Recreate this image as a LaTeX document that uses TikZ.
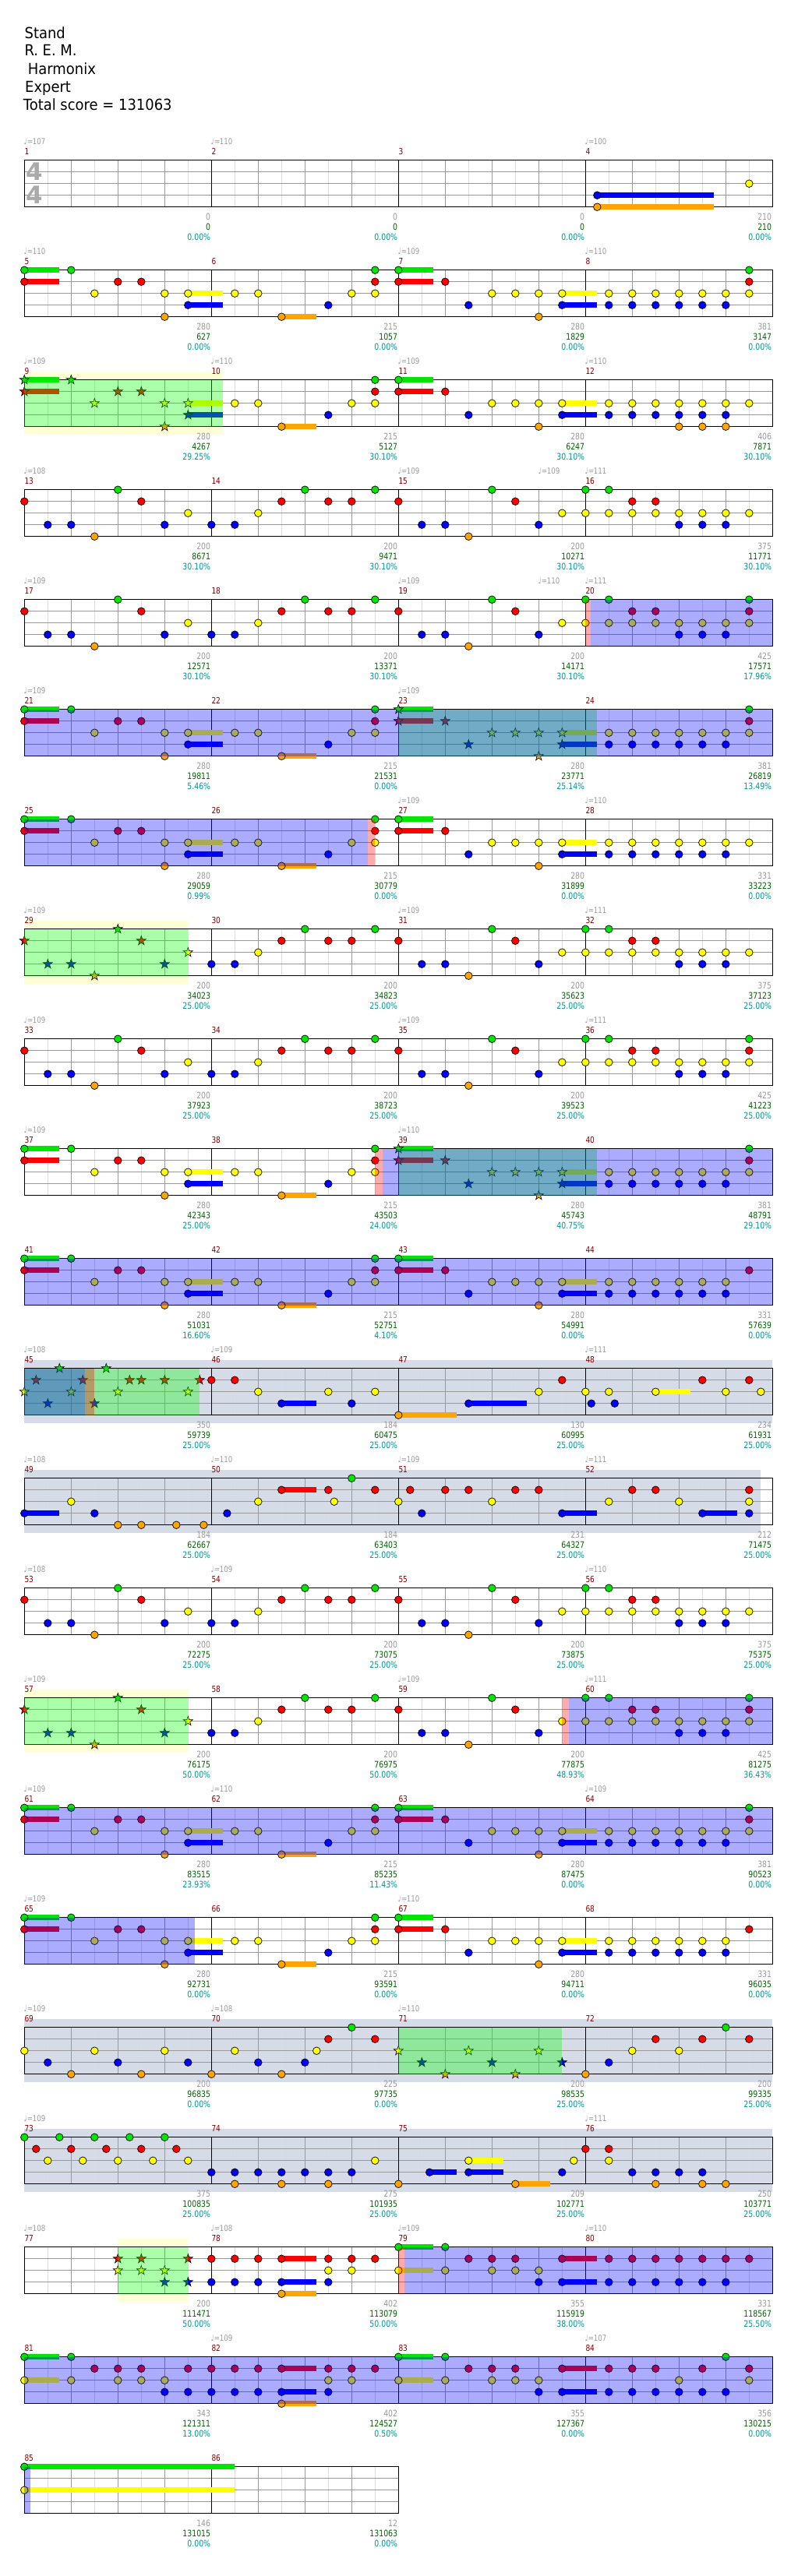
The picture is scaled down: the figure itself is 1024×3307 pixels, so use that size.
\documentclass[tikz,border=0pt]{standalone}
\usepackage{fontspec}
\setmainfont{DejaVu Sans}
\newfontfamily\smf[FakeStretch=0.82]{DejaVu Sans}
\newfontfamily\hdf[FakeStretch=0.92]{DejaVu Sans}
\definecolor{ln0}{RGB}{0,230,0}
\definecolor{ln1}{RGB}{255,0,0}
\definecolor{ln2}{RGB}{255,255,0}
\definecolor{ln3}{RGB}{0,0,255}
\definecolor{ln4}{RGB}{255,165,0}
\definecolor{lgr}{RGB}{221,221,221}
\definecolor{mgr}{RGB}{153,153,153}
\definecolor{slate}{RGB}{213,220,232}
\definecolor{pyel}{RGB}{255,255,214}
\definecolor{mred}{RGB}{140,0,0}
\definecolor{tgray}{RGB}{155,155,155}
\definecolor{sgreen}{RGB}{0,100,0}
\definecolor{pcyan}{RGB}{0,150,150}
\definecolor{tsig}{RGB}{170,170,170}
\tikzset{
  lab/.style={anchor=east,inner sep=0pt,font=\fontsize{11.4}{12}\smf},
  mnum/.style={anchor=west,inner sep=0pt,text=mred,font=\fontsize{11}{12}\smf},
  tmp/.style={anchor=west,inner sep=0pt,text=tgray,font=\fontsize{10.5}{12}\smf},
  hd/.style={anchor=base west,inner sep=0pt,font=\fontsize{19.5}{23}\hdf},
  tsg/.style={inner sep=0pt,text=tsig,font=\fontsize{31}{31}\bfseries}
}
\newcommand\NC[2]{\foreach \q in {#2}{\filldraw[fill=ln#1,draw=black,line width=.7pt] ({31.3+30*\q},{15*#1}) circle (4.8pt);}}
\newcommand\NS[2]{\foreach \q in {#2}{\pgfmathsetmacro\xx{31.3+30*\q}\pgfmathsetmacro\yy{15*#1}%
  \filldraw[fill=ln#1,draw=black,line width=.6pt] ({\xx},{\yy-6.3}) \foreach \i in {0,...,4}{ -- ({\xx+2.5*cos(126+72*\i)},{\yy-2.5*sin(126+72*\i)}) -- ({\xx+6.3*cos(162+72*\i)},{\yy-6.3*sin(162+72*\i)})} -- cycle;}}
\newcommand\NH[3]{\fill[ln#1] ({31.3+30*#2},{15*#1-3.3}) rectangle ({31.3+30*#3},{15*#1+3.3});}
\newcommand\SuStd{\NH0{0}{1.5}\NH1{0}{1.5}\NH2{7}{8.5}\NH3{7}{8.5}\NH4{11}{12.5}\NH0{16}{17.5}\NH1{16}{17.5}\NH2{23}{24.5}\NH3{23}{24.5}}
\newcommand\Grid[2]{%
  \foreach \i in {1,3,...,#1}{\draw[lgr,line width=1pt] ({31.3+30*\i},0) -- ++(0,60);}
  \foreach \i in {2,4,...,#1}{\draw[mgr,line width=1pt] ({31.3+30*\i},0) -- ++(0,60);}
  \foreach \l in {15,30,45}{\draw[mgr,line width=1pt] (31.3,\l) -- ({31.3+30*#1},\l);}
  \foreach \i in {#2}{\draw[black,line width=1pt] ({31.3+240*\i},0) -- ++(0,60);}
  \draw[black,line width=1.3pt] (31.3,0) rectangle ({31.3+30*#1},60);}
\newcommand\OB[2]{\fill[blue,opacity=.33] (#1,0) rectangle (#2,60);}
\newcommand\OG[2]{\fill[green,opacity=.33] (#1,0) rectangle (#2,60);}
\newcommand\OR[2]{\fill[red,opacity=.33] (#1,0) rectangle (#2,60);}
\newcommand\BS[2]{\fill[slate] (#1,-10.5) rectangle (#2,70.5);}
\newcommand\BY[2]{\fill[pyel] (#1,-10.5) rectangle (#2,70.5);\fill[white] (#1,0) rectangle (#2,60);}
\newcommand\Lb[4]{%
  \node[lab,text=tgray] (a\rr-#1) at ({31.3+240*#1-1},72.5) {#2};
  \node[lab,text=sgreen] (b\rr-#1) at ({31.3+240*#1-1},85.5) {#3};
  \node[lab,text=pcyan] (c\rr-#1) at ({31.3+240*#1-1},98.5) {#4};}
\newcommand\Mn[2]{\node[mnum] (n#2) at ({31.3+240*#1},-11.5) {#2};}
\newcommand\Tp[2]{\node[tmp] (t\rr-#1) at ({30.5+30*#1},-24.5) {♩=#2};}
\newcommand\Mfour[1]{\Mn{0}{#1}\pgfmathtruncatemacro\mb{#1+1}\Mn{1}{\mb}\pgfmathtruncatemacro\mc{#1+2}\Mn{2}{\mc}\pgfmathtruncatemacro\md{#1+3}\Mn{3}{\md}}
\begin{document}
\begin{tikzpicture}[x=1pt,y=-1pt]
\useasboundingbox (0,0) rectangle (1024,3307);
\fill[white] (0,0) rectangle (1024,3307);
\node[hd] (h1) at (31.5,49.3) {Stand};
\node[hd] (h2) at (31.3,71.7) {R. E. M.};
\node[hd] (h3) at (35.7,95) {Harmonix};
\node[hd] (h4) at (32,118) {Expert};
\node[hd] (h5) at (29.7,141) {Total score = 131063};
% ROW 1
\def\rr{1}
\begin{scope}[shift={(0,205.7)}]
\Grid{32}{1,2,3}
\node[tsg] (ts1) at (44.5,14.8) {4};
\node[tsg] (ts2) at (44.5,44.3) {4};
\NH3{24.5}{29.5}\NH4{24.5}{29.5}
\NC3{24.5}\NC4{24.5}\NC2{31}
\Mfour{1}
\Tp{0}{107}\Tp{8}{110}\Tp{24}{100}
\Lb{1}{0}{0}{0.00\%}\Lb{2}{0}{0}{0.00\%}\Lb{3}{0}{0}{0.00\%}\Lb{4}{210}{210}{0.00\%}
\end{scope}
% ROW 2
\def\rr{2}
\begin{scope}[shift={(0,346.7)}]
\Grid{32}{1,2,3}
\SuStd
\NC0{0,2,15,16,31}
\NC1{0,4,5,15,16,18,31}
\NC2{3,6,7,9,10,14,15,20,21,22,23,25,26,27,28,29,30,31}
\NC3{7,13,19,23,25,26,27,28,29,30}
\NC4{6,11,22}
\Mfour{5}
\Tp{0}{110}\Tp{16}{109}\Tp{24}{110}
\Lb{1}{280}{627}{0.00\%}\Lb{2}{215}{1057}{0.00\%}\Lb{3}{280}{1829}{0.00\%}\Lb{4}{381}{3147}{0.00\%}
\end{scope}
% ROW 3
\def\rr{3}
\begin{scope}[shift={(0,487.7)}]
\BY{31.3}{286}
\Grid{32}{1,2,3}
\SuStd
\NS0{0,2}\NS1{0,4,5}\NS2{3,6,7}\NS3{7}\NS4{6}
\NC0{15,16}
\NC1{15,16,18}
\NC2{9,10,14,15,20,21,22,23,25,26,27,28,29,30,31}
\NC3{13,19,23,25,26,27,28,29,30}
\NC4{11,22,28,29,30}
\OG{31.3}{286}
\Mfour{9}
\Tp{0}{109}\Tp{8}{110}\Tp{16}{109}\Tp{24}{110}
\Lb{1}{280}{4267}{29.25\%}\Lb{2}{215}{5127}{30.10\%}\Lb{3}{280}{6247}{30.10\%}\Lb{4}{406}{7871}{30.10\%}
\end{scope}
% ROW 4
\def\rr{4}
\begin{scope}[shift={(0,628.7)}]
\Grid{32}{1,2,3}
\NC0{4,12,15,20,24,25}
\NC1{0,5,11,13,14,16,21,26,27}
\NC2{7,10,23,24,25,26,27,28,29,30,31}
\NC3{1,2,6,8,9,17,18,22,28,29,30}
\NC4{3,19}
\Mfour{13}
\Tp{0}{108}\Tp{16}{109}\Tp{22}{109}\Tp{24}{111}
\Lb{1}{200}{8671}{30.10\%}\Lb{2}{200}{9471}{30.10\%}\Lb{3}{200}{10271}{30.10\%}\Lb{4}{375}{11771}{30.10\%}
\end{scope}
% ROW 5
\def\rr{5}
\begin{scope}[shift={(0,769.7)}]
\Grid{32}{1,2,3}
\NC0{4,12,15,20,24,25,31}
\NC1{0,5,11,13,14,16,21,26,27,31}
\NC2{7,10,23,24,25,26,27,28,29,30,31}
\NC3{1,2,6,8,9,17,18,22,28,29,30}
\NC4{3,19}
\OR{751.3}{758}\OB{758}{991.3}
\Mfour{17}
\Tp{0}{109}\Tp{16}{109}\Tp{22}{110}\Tp{24}{111}
\Lb{1}{200}{12571}{30.10\%}\Lb{2}{200}{13371}{30.10\%}\Lb{3}{200}{14171}{30.10\%}\Lb{4}{425}{17571}{17.96\%}
\end{scope}
% ROW 6
\def\rr{6}
\begin{scope}[shift={(0,910.7)}]
\Grid{32}{1,2,3}
\SuStd
\NC0{0,2,15,31}
\NC1{0,4,5,15,31}
\NC2{3,6,7,9,10,14,15,25,26,27,28,29,30,31}
\NC3{7,13,25,26,27,28,29,30}
\NC4{6,11}
\NS0{16}\NS1{16,18}\NS2{20,21,22,23}\NS3{19,23}\NS4{22}
\OG{511.3}{766.3}\OB{31.3}{991.3}
\Mfour{21}
\Tp{0}{109}\Tp{16}{109}
\Lb{1}{280}{19811}{5.46\%}\Lb{2}{215}{21531}{0.00\%}\Lb{3}{280}{23771}{25.14\%}\Lb{4}{381}{26819}{13.49\%}
\end{scope}
% ROW 7
\def\rr{7}
\begin{scope}[shift={(0,1051.7)}]
\Grid{32}{1,2,3}
\SuStd
\NC0{0,2,15,16}
\NC1{0,4,5,15,16,18}
\NC2{3,6,7,9,10,14,15,20,21,22,23,25,26,27,28,29,30,31}
\NC3{7,13,19,23,25,26,27,28,29,30}
\NC4{6,11,22}
\OB{31.3}{472.3}\OR{472.3}{481.3}
\Mfour{25}
\Tp{16}{109}\Tp{24}{110}
\Lb{1}{280}{29059}{0.99\%}\Lb{2}{215}{30779}{0.00\%}\Lb{3}{280}{31899}{0.00\%}\Lb{4}{331}{33223}{0.00\%}
\end{scope}
% ROW 8
\def\rr{8}
\begin{scope}[shift={(0,1192.7)}]
\BY{31.3}{241.3}
\Grid{32}{1,2,3}
\NS0{4}\NS1{0,5}\NS2{7}\NS3{1,2,6}\NS4{3}
\NC0{12,15,20,24,25}
\NC1{11,13,14,16,21,26,27}
\NC2{10,23,24,25,26,27,28,29,30,31}
\NC3{8,9,17,18,22,28,29,30}
\NC4{19}
\OG{31.3}{241.3}
\Mfour{29}
\Tp{0}{109}\Tp{16}{109}\Tp{24}{111}
\Lb{1}{200}{34023}{25.00\%}\Lb{2}{200}{34823}{25.00\%}\Lb{3}{200}{35623}{25.00\%}\Lb{4}{375}{37123}{25.00\%}
\end{scope}
% ROW 9
\def\rr{9}
\begin{scope}[shift={(0,1333.7)}]
\Grid{32}{1,2,3}
\NC0{4,12,15,20,24,25,31}
\NC1{0,5,11,13,14,16,21,26,27,31}
\NC2{7,10,23,24,25,26,27,28,29,30,31}
\NC3{1,2,6,8,9,17,18,22,28,29,30}
\NC4{3,19}
\Mfour{33}
\Tp{0}{109}\Tp{16}{109}\Tp{24}{111}
\Lb{1}{200}{37923}{25.00\%}\Lb{2}{200}{38723}{25.00\%}\Lb{3}{200}{39523}{25.00\%}\Lb{4}{425}{41223}{25.00\%}
\end{scope}
% ROW 10
\def\rr{10}
\begin{scope}[shift={(0,1474.7)}]
\Grid{32}{1,2,3}
\SuStd
\NC0{0,2,15,31}
\NC1{0,4,5,15,31}
\NC2{3,6,7,9,10,14,15,25,26,27,28,29,30,31}
\NC3{7,13,25,26,27,28,29,30}
\NC4{6,11}
\NS0{16}\NS1{16,18}\NS2{20,21,22,23}\NS3{19,23}\NS4{22}
\OR{481.3}{491}\OG{511.3}{766.3}\OB{491}{991.3}
\Mfour{37}
\Tp{0}{109}\Tp{16}{110}
\Lb{1}{280}{42343}{25.00\%}\Lb{2}{215}{43503}{24.00\%}\Lb{3}{280}{45743}{40.75\%}\Lb{4}{381}{48791}{29.10\%}
\end{scope}
% ROW 11
\def\rr{11}
\begin{scope}[shift={(0,1615.7)}]
\Grid{32}{1,2,3}
\SuStd
\NC0{0,2,15,16}
\NC1{0,4,5,15,16,18,31}
\NC2{3,6,7,9,10,14,15,20,21,22,23,25,26,27,28,29,30}
\NC3{7,13,19,23,25,26,27,28,29,30}
\NC4{6,11,22}
\OB{31.3}{991.3}
\Mfour{41}
\Lb{1}{280}{51031}{16.60\%}\Lb{2}{215}{52751}{4.10\%}\Lb{3}{280}{54991}{0.00\%}\Lb{4}{331}{57639}{0.00\%}
\end{scope}
% ROW 12
\def\rr{12}
\begin{scope}[shift={(0,1756.7)}]
\BS{31.3}{991.3}
\Grid{32}{1,2,3}
\NH2{27}{28.5}\NH3{11}{12.5}\NH3{19}{21.5}\NH4{16}{18.5}
\NS0{1.5,3.5}\NS1{0.5,2.5,4.5,5,6,7.5}\NS2{0,2,4,7}\NS3{1,3}
\NC1{8,9,23,29,31}
\NC2{10,13,15,22,24,25,27,30,31.5}
\NC3{11,14,19,24.25,25.25}
\NC4{16}
\OG{31.3}{256.3}\OB{31.3}{109}\OR{109}{121.3}
\Mfour{45}
\Tp{0}{108}\Tp{8}{109}\Tp{24}{111}
\Lb{1}{350}{59739}{25.00\%}\Lb{2}{184}{60475}{25.00\%}\Lb{3}{130}{60995}{25.00\%}\Lb{4}{234}{61931}{25.00\%}
\end{scope}
% ROW 13
\def\rr{13}
\begin{scope}[shift={(0,1897.7)}]
\BS{31.3}{976.3}
\Grid{32}{1,2,3}
\NH1{11}{12.5}\NH3{0}{1.5}\NH3{23}{24.5}\NH3{29}{30.5}
\NC0{14}
\NC1{11,13,15,16.5,18,19,21,22,26,27,31}
\NC2{2,10,13.25,16,20,25,28,31}
\NC3{0,3,8.67,17,23,29,31}
\NC4{4,5,6.5,7.67}
\Mfour{49}
\Tp{0}{108}\Tp{8}{110}\Tp{16}{109}\Tp{24}{111}
\Lb{1}{184}{62667}{25.00\%}\Lb{2}{184}{63403}{25.00\%}\Lb{3}{231}{64327}{25.00\%}\Lb{4}{212}{71475}{25.00\%}
\end{scope}
% ROW 14
\def\rr{14}
\begin{scope}[shift={(0,2038.7)}]
\Grid{32}{1,2,3}
\NC0{4,12,15,20,24,25}
\NC1{0,5,11,13,14,16,21,26,27}
\NC2{7,10,23,24,25,26,27,28,29,30,31}
\NC3{1,2,6,8,9,17,18,22,28,29,30}
\NC4{3,19}
\Mfour{53}
\Tp{0}{108}\Tp{8}{109}\Tp{24}{110}
\Lb{1}{200}{72275}{25.00\%}\Lb{2}{200}{73075}{25.00\%}\Lb{3}{200}{73875}{25.00\%}\Lb{4}{375}{75375}{25.00\%}
\end{scope}
% ROW 15
\def\rr{15}
\begin{scope}[shift={(0,2179.7)}]
\BY{31.3}{241.3}
\Grid{32}{1,2,3}
\NS0{4}\NS1{0,5}\NS2{7}\NS3{1,2,6}\NS4{3}
\NC0{12,15,20,24,25,31}
\NC1{11,13,14,16,21,26,27,31}
\NC2{10,23,24,25,26,27,28,29,30,31}
\NC3{8,9,17,18,22,28,29,30}
\NC4{19}
\OG{31.3}{241.3}\OR{721.3}{730}\OB{730}{991.3}
\Mfour{57}
\Tp{0}{109}\Tp{16}{109}\Tp{24}{111}
\Lb{1}{200}{76175}{50.00\%}\Lb{2}{200}{76975}{50.00\%}\Lb{3}{200}{77875}{48.93\%}\Lb{4}{425}{81275}{36.43\%}
\end{scope}
% ROW 16
\def\rr{16}
\begin{scope}[shift={(0,2320.7)}]
\Grid{32}{1,2,3}
\SuStd
\NC0{0,2,15,16,31}
\NC1{0,4,5,15,16,18,31}
\NC2{3,6,7,9,10,14,15,20,21,22,23,25,26,27,28,29,30,31}
\NC3{7,13,19,23,25,26,27,28,29,30}
\NC4{6,11,22}
\OB{31.3}{991.3}
\Mfour{61}
\Tp{0}{109}\Tp{8}{110}\Tp{24}{109}
\Lb{1}{280}{83515}{23.93\%}\Lb{2}{215}{85235}{11.43\%}\Lb{3}{280}{87475}{0.00\%}\Lb{4}{381}{90523}{0.00\%}
\end{scope}
% ROW 17
\def\rr{17}
\begin{scope}[shift={(0,2461.7)}]
\Grid{32}{1,2,3}
\SuStd
\NC0{0,2,15,16}
\NC1{0,4,5,15,16,18,31}
\NC2{3,6,7,9,10,14,15,20,21,22,23,25,26,27,28,29,30}
\NC3{7,13,19,23,25,26,27,28,29,30}
\NC4{6,11,22}
\OB{31.3}{250.3}
\Mfour{65}
\Tp{0}{109}\Tp{16}{110}
\Lb{1}{280}{92731}{0.00\%}\Lb{2}{215}{93591}{0.00\%}\Lb{3}{280}{94711}{0.00\%}\Lb{4}{331}{96035}{0.00\%}
\end{scope}
% ROW 18
\def\rr{18}
\begin{scope}[shift={(0,2602.7)}]
\BS{31.3}{991.3}
\Grid{32}{1,2,3}
\NC0{14,30}
\NC1{13,15,27,29,31}
\NC2{0,3,6,9,12.5,26,28}
\NC3{1,4,7,10,12,25}
\NC4{2,5,8,11,24}
\NS2{16,19,22}\NS3{17,20,23}\NS4{18,21}
\OG{511.3}{721.3}
\Mfour{69}
\Tp{0}{109}\Tp{8}{108}\Tp{16}{110}
\Lb{1}{200}{96835}{0.00\%}\Lb{2}{225}{97735}{0.00\%}\Lb{3}{200}{98535}{25.00\%}\Lb{4}{200}{99335}{25.00\%}
\end{scope}
% ROW 19
\def\rr{19}
\begin{scope}[shift={(0,2743.7)}]
\BS{31.3}{991.3}
\Grid{32}{1,2,3}
\NH2{19}{20.5}\NH3{17.33}{18.5}\NH3{19}{20.5}\NH4{21}{22.5}
\NC0{0,1.5,3,4.5,6}
\NC1{0.5,2,3.5,5,6.5,24,25}
\NC2{1,2.5,4,5.5,7,15,19,23.5,25}
\NC3{8,9,10,11,12,13,14,17.33,19,23,26,27,28,29}
\NC4{9,11,13,16,21,27,29,30}
\Mfour{73}
\Tp{0}{109}\Tp{24}{111}
\Lb{1}{375}{100835}{25.00\%}\Lb{2}{275}{101935}{25.00\%}\Lb{3}{209}{102771}{25.00\%}\Lb{4}{250}{103771}{25.00\%}
\end{scope}
% ROW 20
\def\rr{20}
\begin{scope}[shift={(0,2884.7)}]
\BY{151.3}{241.3}
\Grid{32}{1,2,3}
\NH0{16}{17.5}\NH1{11}{12.5}\NH1{23}{24.5}\NH2{16}{17.5}\NH3{11}{12.5}\NH3{23}{24.5}\NH4{11}{12.5}
\NS1{4,5,7}\NS2{4,5,6}\NS3{6,7}
\NC0{16,18}
\NC1{8,9,10,11,13,14,15,19,20,21,23,25,26,27,28,29,30,31}
\NC2{13,14,16,18,20,21,22}
\NC3{8,9,10,11,13,22,23,25,26,27,28,29,30}
\NC4{11}
\OG{151.3}{241.3}\OR{511.3}{519.3}\OB{519.3}{991.3}
\Mfour{77}
\Tp{0}{108}\Tp{8}{108}\Tp{16}{109}\Tp{24}{110}
\Lb{1}{200}{111471}{50.00\%}\Lb{2}{402}{113079}{50.00\%}\Lb{3}{355}{115919}{38.00\%}\Lb{4}{331}{118567}{25.50\%}
\end{scope}
% ROW 21
\def\rr{21}
\begin{scope}[shift={(0,3025.7)}]
\Grid{32}{1,2,3}
\NH0{0}{1.5}\NH0{16}{17.5}\NH1{11}{12.5}\NH1{23}{24.5}\NH2{0}{1.5}\NH2{16}{17.5}\NH3{11}{12.5}\NH3{23}{24.5}\NH4{11}{12.5}
\NC0{0,2,16,18,30}
\NC1{3,4,5,7,8,9,10,11,13,14,15,19,20,21,23,25,26,27,29,31}
\NC2{0,2,4,5,6,13,14,16,18,20,21,22,28,31}
\NC3{6,7,8,9,10,11,13,22,23,25,26,27,28,29,30}
\NC4{11}
\OB{31.3}{991.3}
\Mfour{81}
\Tp{8}{109}\Tp{24}{107}
\Lb{1}{343}{121311}{13.00\%}\Lb{2}{402}{124527}{0.50\%}\Lb{3}{355}{127367}{0.00\%}\Lb{4}{356}{130215}{0.00\%}
\end{scope}
% ROW 22
\def\rr{22}
\begin{scope}[shift={(0,3166.7)}]
\Grid{16}{1}
\NH0{0}{9}\NH2{0}{9}
\NC0{0}\NC2{0}
\OB{31.3}{39}
\Mn{0}{85}\Mn{1}{86}
\Lb{1}{146}{131015}{0.00\%}\Lb{2}{12}{131063}{0.00\%}
\end{scope}
\end{tikzpicture}
\end{document}
